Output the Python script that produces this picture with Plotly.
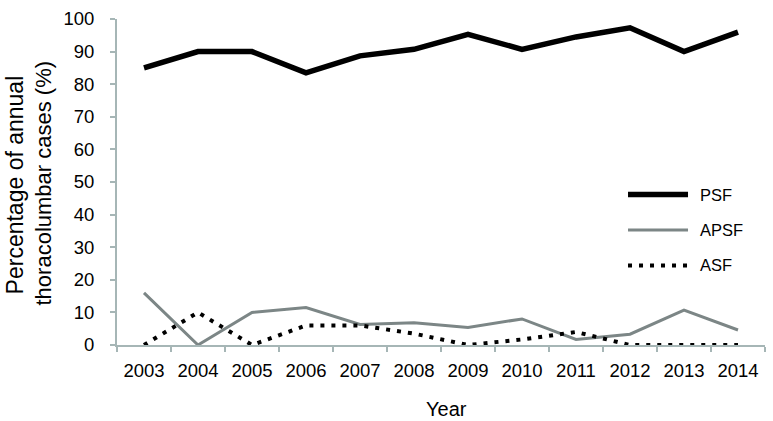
import plotly.graph_objects as go

years = ["2003", "2004", "2005", "2006", "2007", "2008", "2009", "2010", "2011", "2012", "2013", "2014"]
psf = [85, 90, 90, 83.5, 88.7, 90.7, 95.3, 90.7, 94.5, 97.3, 90, 96]
apsf = [16, 0, 10, 11.5, 6.3, 6.8, 5.4, 8, 1.7, 3.3, 10.7, 4.6]
asf = [0, 10, 0, 6, 6, 3.5, 0, 1.7, 4, 0, 0, 0]
names = ["PSF", "APSF", "ASF"]
y_ticks = [0, 10, 20, 30, 40, 50, 60, 70, 80, 90, 100]
y_title_lines = ["Percentage of annual", "thoracolumbar cases (%)"]
x_title = "Year"

FONT = "Liberation Sans, Arial, Helvetica, sans-serif"
GRAY = "#7c8686"
AXIS = "#a6b6b6"

styles = [
    dict(color="black", width=5.5),
    dict(color=GRAY, width=3),
    dict(color="black", width=4, dash="4px,7px"),
]

fig = go.Figure()
for name, vals, st in zip(names, [psf, apsf, asf], styles):
    fig.add_trace(go.Scatter(x=years, y=vals, mode="lines", name=name,
                             line=st, showlegend=False))

# legend drawn manually to match the long sample lines
leg_y = [0.4613, 0.3527, 0.244]
for name, st, yy in zip(names, styles, leg_y):
    fig.add_shape(type="line", xref="paper", yref="paper",
                  x0=0.7886, x1=0.8812, y0=yy, y1=yy, line=st)
    fig.add_annotation(text=name, xref="paper", yref="paper", x=0.8966, y=yy,
                       xanchor="left", yanchor="middle", showarrow=False,
                       font=dict(family=FONT, size=16.5, color="black"))

# axis titles
fig.add_annotation(text=y_title_lines[0], xref="paper", yref="paper",
                   x=-0.1574, y=0.4896, textangle=-90, showarrow=False,
                   xanchor="center", yanchor="middle",
                   font=dict(family=FONT, size=23, color="black"))
fig.add_annotation(text=y_title_lines[1], xref="paper", yref="paper",
                   x=-0.1142, y=0.4985, textangle=-90, showarrow=False,
                   xanchor="center", yanchor="middle",
                   font=dict(family=FONT, size=22, color="black"))
fig.add_annotation(text=x_title, xref="paper", yref="paper",
                   x=0.509, y=-0.195, showarrow=False,
                   xanchor="center", yanchor="middle",
                   font=dict(family=FONT, size=20, color="black"))

fig.update_layout(
    width=773, height=421,
    margin=dict(l=117, r=8, t=9, b=76),
    paper_bgcolor="white", plot_bgcolor="white",
    xaxis=dict(
        type="category", range=[-0.5, 11.5], tickson="boundaries",
        ticks="outside", ticklen=5, tickcolor=AXIS, tickwidth=1.5,
        showline=True, linecolor=AXIS, linewidth=2, showgrid=False,
        tickfont=dict(family=FONT, size=18.5, color="black"),
        ticklabelstandoff=8, ticklabeloverflow="allow",
    ),
    yaxis=dict(
        range=[0, 100], tickvals=y_ticks, ticks="outside", ticklen=5,
        tickcolor=AXIS, tickwidth=1.5,
        showline=True, linecolor=AXIS, linewidth=2, showgrid=False, zeroline=False,
        tickfont=dict(family=FONT, size=18.5, color="black"),
        ticklabelstandoff=12, ticklabeloverflow="allow",
    ),
)

fig.write_html("out.html", config={"displayModeBar": False},
               post_script="document.body.style.margin='0px';")
